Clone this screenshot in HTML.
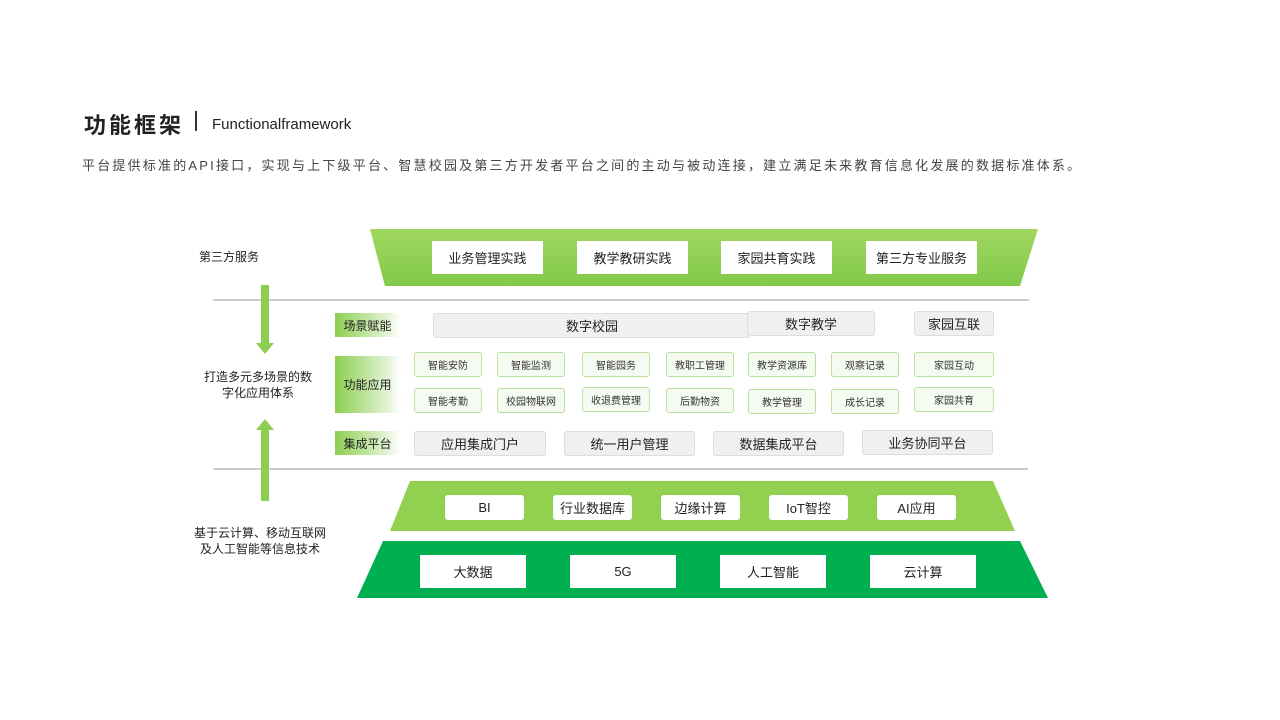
<!DOCTYPE html>
<html><head><meta charset="utf-8"><style>
body{margin:0;width:1280px;height:720px;background:#fff;position:relative;overflow:hidden;font-family:"Liberation Sans","Noto Sans CJK SC",sans-serif;color:#222}
.a{position:absolute}
.w{position:absolute;background:#fff;display:flex;align-items:center;justify-content:center;font-size:13px;color:#222}
.g{position:absolute;background:#f0f0f0;border:1px solid #ddd;border-radius:3px;display:flex;align-items:center;justify-content:center;font-size:13px;color:#222;box-sizing:border-box}
.f{position:absolute;background:#f6fbf2;border:1px solid #b8e0a0;border-radius:3px;display:flex;align-items:center;justify-content:center;font-size:10px;color:#333;box-sizing:border-box;width:68px;height:25px}
.l{position:absolute;background:linear-gradient(90deg,#8ccf50,#e8f5dd 85%,#fff);display:flex;align-items:center;justify-content:center;font-size:12px;color:#222}
.t{position:absolute;font-size:12px;color:#222;text-align:center;line-height:16px}
</style></head><body>
<div class="a" style="left:84px;top:108px;font-size:22px;font-weight:bold;letter-spacing:3px;color:#222">功能框架</div>
<div class="a" style="left:195px;top:111px;width:2px;height:20px;background:#333"></div>
<div class="a" style="left:212px;top:116px;font-size:15px;color:#222">Functionalframework</div>
<div class="a" style="left:82px;top:155px;font-size:13px;letter-spacing:2.2px;color:#444;white-space:nowrap">平台提供标准的API接口，实现与上下级平台、智慧校园及第三方开发者平台之间的主动与被动连接，建立满足未来教育信息化发展的数据标准体系。</div>

<svg class="a" style="left:0;top:0" width="1280" height="720">
<defs><linearGradient id="gt" x1="0" y1="0" x2="0" y2="1"><stop offset="0" stop-color="#9fd85f"/><stop offset="1" stop-color="#82c94a"/></linearGradient></defs>
<polygon points="370,229 1038,229 1020,286 385,286" fill="url(#gt)"/>
<polygon points="410,481 993,481 1015,531 390,531" fill="#92d050"/>
<polygon points="383,541 1020,541 1048,598 357,598" fill="#00b050"/>
<line x1="213" y1="300" x2="1029" y2="300" stroke="#bbb" stroke-width="1.5"/>
<line x1="213" y1="469" x2="1028" y2="469" stroke="#bbb" stroke-width="1.5"/>
<rect x="261" y="285" width="8" height="58" fill="#8ccf50"/>
<polygon points="256,343 274,343 265,354" fill="#8ccf50"/>
<rect x="261" y="430" width="8" height="71" fill="#8ccf50"/>
<polygon points="256,430 274,430 265,419" fill="#8ccf50"/>
</svg>

<div class="t" style="left:199px;top:249px;width:80px;text-align:left">第三方服务</div>
<div class="t" style="left:195px;top:369px;width:126px">打造多元多场景的数<br>字化应用体系</div>
<div class="t" style="left:185px;top:525px;width:150px">基于云计算、移动互联网<br>及人工智能等信息技术</div>

<div class="w" style="left:432px;top:241px;width:111px;height:33px">业务管理实践</div>
<div class="w" style="left:577px;top:241px;width:111px;height:33px">教学教研实践</div>
<div class="w" style="left:721px;top:241px;width:111px;height:33px">家园共育实践</div>
<div class="w" style="left:866px;top:241px;width:111px;height:33px">第三方专业服务</div>

<div class="l" style="left:335px;top:313px;width:65px;height:24px">场景赋能</div>
<div class="l" style="left:335px;top:356px;width:65px;height:57px">功能应用</div>
<div class="l" style="left:335px;top:431px;width:65px;height:24px">集成平台</div>

<div class="g" style="left:433px;top:313px;width:318px;height:25px">数字校园</div>
<div class="g" style="left:747px;top:311px;width:128px;height:25px">数字教学</div>
<div class="g" style="left:914px;top:311px;width:80px;height:25px">家园互联</div>

<div class="f" style="left:414px;top:352px">智能安防</div>
<div class="f" style="left:497px;top:352px">智能监测</div>
<div class="f" style="left:582px;top:352px">智能园务</div>
<div class="f" style="left:666px;top:352px">教职工管理</div>
<div class="f" style="left:748px;top:352px">教学资源库</div>
<div class="f" style="left:831px;top:352px">观察记录</div>
<div class="f" style="left:914px;top:352px;width:80px">家园互动</div>
<div class="f" style="left:414px;top:388px">智能考勤</div>
<div class="f" style="left:497px;top:388px">校园物联网</div>
<div class="f" style="left:582px;top:387px">收退费管理</div>
<div class="f" style="left:666px;top:388px">后勤物资</div>
<div class="f" style="left:748px;top:389px">教学管理</div>
<div class="f" style="left:831px;top:389px">成长记录</div>
<div class="f" style="left:914px;top:387px;width:80px">家园共育</div>

<div class="g" style="left:414px;top:431px;width:132px;height:25px">应用集成门户</div>
<div class="g" style="left:564px;top:431px;width:131px;height:25px">统一用户管理</div>
<div class="g" style="left:713px;top:431px;width:131px;height:25px">数据集成平台</div>
<div class="g" style="left:862px;top:430px;width:131px;height:25px">业务协同平台</div>

<div class="w" style="left:445px;top:495px;width:79px;height:25px;border-radius:3px">BI</div>
<div class="w" style="left:553px;top:495px;width:79px;height:25px;border-radius:3px">行业数据库</div>
<div class="w" style="left:661px;top:495px;width:79px;height:25px;border-radius:3px">边缘计算</div>
<div class="w" style="left:769px;top:495px;width:79px;height:25px;border-radius:3px">IoT智控</div>
<div class="w" style="left:877px;top:495px;width:79px;height:25px;border-radius:3px">AI应用</div>

<div class="w" style="left:420px;top:555px;width:106px;height:33px">大数据</div>
<div class="w" style="left:570px;top:555px;width:106px;height:33px">5G</div>
<div class="w" style="left:720px;top:555px;width:106px;height:33px">人工智能</div>
<div class="w" style="left:870px;top:555px;width:106px;height:33px">云计算</div>
</body></html>
